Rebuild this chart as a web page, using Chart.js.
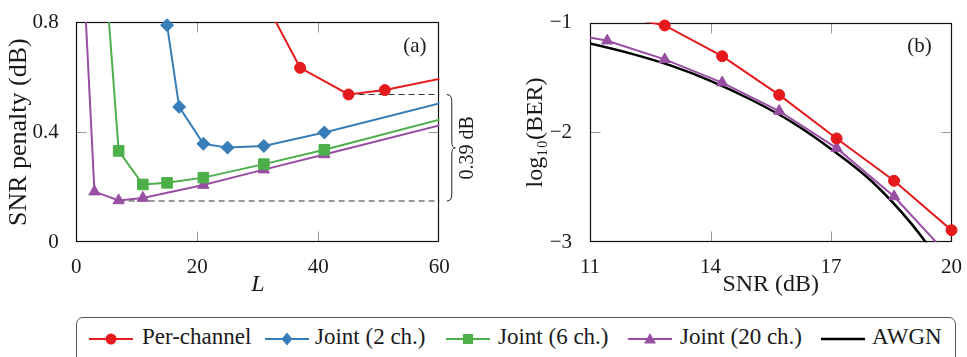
<!DOCTYPE html>
<html><head><meta charset="utf-8">
<script src="https://cdn.jsdelivr.net/npm/chart.js@4.4.1/dist/chart.umd.min.js"></script>
<style>
html,body{margin:0;padding:0;background:#fff;}
body{width:967px;height:357px;position:relative;overflow:hidden;font-family:"Liberation Serif", serif;}
#ca{position:absolute;left:0;top:0;}
#cb{position:absolute;left:480px;top:0;}
#legend{position:absolute;left:76px;top:317px;width:880px;height:52px;border:1px solid #555;border-radius:7px;box-sizing:border-box;}
.ic{position:absolute;top:13px;}
.tx{position:absolute;top:5px;font-family:"Liberation Serif", serif;font-size:23px;line-height:28px;color:#1a1a1a;white-space:nowrap;}
</style></head>
<body>
<canvas id="ca" width="480" height="300"></canvas>
<canvas id="cb" width="487" height="300"></canvas>
<div id="legend"></div>
<script>
// ---------- data: panel (a) SNR penalty vs L ----------
const lTicks = [0, 20, 40, 60];
const penaltyTicks = [0, 0.4, 0.8];
const perChannelL = [31, 37, 45, 51, 61];
const perChannelPenalty = [0.883, 0.634, 0.537, 0.553, 0.598];
const joint2L = [15, 17, 21, 25, 31, 41, 61];
const joint2Penalty = [0.789, 0.492, 0.358, 0.344, 0.350, 0.399, 0.510];
const joint6L = [5, 7, 11, 15, 21, 31, 41, 61];
const joint6Penalty = [0.92, 0.332, 0.210, 0.216, 0.235, 0.284, 0.336, 0.451];
const joint20L = [1, 3, 7, 11, 21, 31, 41, 61];
const joint20Penalty = [1.06, 0.184, 0.152, 0.161, 0.208, 0.264, 0.319, 0.430];
const gapLevels = [0.537, 0.150];   // best per-channel, best joint
const gapStartL = [45, 7];
const gapEndL = 60;
const gapLabel = '0.39 dB';

// ---------- data: panel (b) log10(BER) vs SNR ----------
const snrTicks = [11, 14, 17, 20];
const berTicks = [-3, -2, -1];
const perChannelSnr = [11.43, 12.86, 14.29, 15.71, 17.14, 18.57, 20];
const perChannelBer = [-0.914, -1.026, -1.306, -1.658, -2.055, -2.44, -2.89];
const joint20Snr = [10, 11.43, 12.86, 14.29, 15.71, 17.14, 18.57, 20];
const joint20Ber = [-1.07, -1.165, -1.335, -1.546, -1.805, -2.143, -2.583, -3.15];
const awgnSnr = [10, 11, 12, 13, 14, 15, 16, 17, 18, 19, 20];
const awgnBer = [-1.11, -1.19, -1.28, -1.39, -1.53, -1.70, -1.90, -2.15, -2.44, -2.83, -3.32];

// ---------- styles ----------
const RED = '#e41a1c', BLUE = '#377eb8', GREEN = '#4daf4a', PURPLE = '#984ea3', BLACK = '#000';
const FONT = '"Liberation Serif", serif';
const TXT = '#1a1a1a';

const pts = (xs, ys) => xs.map((x, i) => ({x, y: ys[i]}));

function inRange(ctx) {
  const c = ctx.chart, r = ctx.raw;
  if (!r) return false;
  const xs = c.scales.x, ys = c.scales.y;
  return r.x >= xs.min && r.x <= xs.max && r.y >= ys.min && r.y <= ys.max;
}
function lineDs(data, color, order, w) {
  return {data, borderColor: color, backgroundColor: color, borderWidth: w || 2,
    pointRadius: 0, clip: 0, order, tension: 0};
}
function markDs(data, color, style, r, order) {
  return {data, showLine: false, borderColor: color, backgroundColor: color, borderWidth: 1,
    pointStyle: style, pointRadius: ctx => inRange(ctx) ? r : 0, clip: false, order};
}

const framePlugin = {
  id: 'frame',
  beforeDatasetsDraw(chart) {
    const {ctx, chartArea: a} = chart;
    const L = Math.round(a.left) + 0.5, R = Math.round(a.right) - 0.5,
          T = Math.round(a.top) + 0.5, B = Math.round(a.bottom) - 0.5;
    ctx.save();
    ctx.strokeStyle = '#999'; ctx.lineWidth = 1;
    const tl = 10;
    chart.scales.x.ticks.forEach(t => {
      if (t.value <= chart.scales.x.min || t.value >= chart.scales.x.max) return;
      const p = Math.round(chart.scales.x.getPixelForValue(t.value)) + 0.5;
      ctx.beginPath(); ctx.moveTo(p, B); ctx.lineTo(p, B - tl); ctx.moveTo(p, T); ctx.lineTo(p, T + tl); ctx.stroke();
    });
    chart.scales.y.ticks.forEach(t => {
      if (t.value <= chart.scales.y.min || t.value >= chart.scales.y.max) return;
      const p = Math.round(chart.scales.y.getPixelForValue(t.value)) + 0.5;
      ctx.beginPath(); ctx.moveTo(L, p); ctx.lineTo(L + tl, p); ctx.moveTo(R, p); ctx.lineTo(R - tl, p); ctx.stroke();
    });
    ctx.strokeStyle = '#111'; ctx.lineWidth = 1.2;
    ctx.strokeRect(L, T, R - L, B - T);
    ctx.restore();
  },
  afterDraw(chart, args, opts) {
    const {ctx, chartArea: a} = chart;
    ctx.save();
    ctx.fillStyle = TXT;
    ctx.font = '21px ' + FONT;
    ctx.textAlign = 'center'; ctx.textBaseline = 'middle';
    ctx.fillText(opts.tag, a.right - opts.tagDx, a.top + 24);
    if (opts.brace) {
      const y = chart.scales.y;
      const yT = y.getPixelForValue(gapLevels[0]), yB = y.getPixelForValue(gapLevels[1]);
      const x0 = a.right + 7.5, xm = x0 + 5, xt = x0 + 8.5, mid = (yT + yB) / 2;
      ctx.strokeStyle = '#222'; ctx.lineWidth = 1;
      ctx.beginPath();
      ctx.moveTo(x0, yT);
      ctx.quadraticCurveTo(xm, yT, xm, yT + 7);
      ctx.lineTo(xm, mid - 6);
      ctx.quadraticCurveTo(xm, mid, xt, mid);
      ctx.quadraticCurveTo(xm, mid, xm, mid + 6);
      ctx.lineTo(xm, yB - 7);
      ctx.quadraticCurveTo(xm, yB, x0, yB);
      ctx.stroke();
      ctx.translate(a.right + 28, mid);
      ctx.rotate(-Math.PI / 2);
      ctx.font = '20px ' + FONT;
      ctx.fillText(gapLabel, 0, 0);
    }
    ctx.restore();
  }
};

function axis(min, max, ticks, fmt, title, titleFont, titlePad, tickPad, fit, isX) {
  return {
    type: 'linear', min, max,
    afterBuildTicks: s => { s.ticks = ticks.map(v => ({value: v})); },
    ticks: {callback: fmt, padding: tickPad, color: TXT, font: {family: FONT, size: 21},
      maxRotation: 0, autoSkip: false},
    grid: {display: false}, border: {display: false},
    title: {display: true, text: title, color: TXT, font: titleFont, padding: titlePad},
    afterFit: s => { if (isX) s.height = fit; else s.width = fit; }
  };
}

// ---------- chart (a) ----------
new Chart(document.getElementById('ca'), {
  type: 'line',
  data: {datasets: [
    markDs(pts(perChannelL, perChannelPenalty), RED, 'circle', 5.5, 1),
    markDs(pts(joint2L, joint2Penalty), BLUE, 'rectRot', 6.5, 2),
    markDs(pts(joint6L, joint6Penalty), GREEN, 'rect', 7.5, 3),
    markDs(pts(joint20L, joint20Penalty), PURPLE, 'triangle', 6.5, 4),
    lineDs(pts(perChannelL, perChannelPenalty), RED, 11),
    lineDs(pts(joint2L, joint2Penalty), BLUE, 12),
    lineDs(pts(joint6L, joint6Penalty), GREEN, 13),
    lineDs(pts(joint20L, joint20Penalty), PURPLE, 14),
    {data: [{x: gapStartL[0], y: gapLevels[0]}, {x: gapEndL, y: gapLevels[0]}], borderColor: '#333',
      borderWidth: 1, borderDash: [6, 4], pointRadius: 0, clip: false, order: 30},
    {data: [{x: gapStartL[1], y: gapLevels[1]}, {x: gapEndL, y: gapLevels[1]}], borderColor: '#333',
      borderWidth: 1, borderDash: [6, 4], pointRadius: 0, clip: false, order: 31}
  ]},
  options: {
    responsive: false, animation: false, events: [],
    layout: {padding: {left: 0, top: 15.3, right: 40.7, bottom: 0}},
    plugins: {legend: {display: false}, tooltip: {enabled: false},
      frame: {tag: '(a)', tagDx: 24.5, brace: true}},
    scales: {
      x: axis(0, 60, lTicks, v => String(v), 'L', {family: FONT, size: 24, style: 'italic'},
        {top: 0, bottom: 1}, 5, 57.7, true),
      y: axis(0, 0.8, penaltyTicks, v => v === 0 ? '0' : v.toFixed(1), 'SNR penalty (dB)',
        {family: FONT, size: 26}, {top: 4, bottom: 0}, 9.5, 76.3, false)
    }
  },
  plugins: [framePlugin]
});

// ---------- chart (b) ----------
new Chart(document.getElementById('cb'), {
  type: 'line',
  data: {datasets: [
    markDs(pts(perChannelSnr, perChannelBer), RED, 'circle', 5.5, 1),
    markDs(pts(joint20Snr, joint20Ber), PURPLE, 'triangle', 6.5, 2),
    lineDs(pts(perChannelSnr, perChannelBer), RED, 11),
    lineDs(pts(joint20Snr, joint20Ber), PURPLE, 12),
    Object.assign(lineDs(pts(awgnSnr, awgnBer), BLACK, 13, 2.5), {cubicInterpolationMode: 'monotone'})
  ]},
  options: {
    responsive: false, animation: false, events: [],
    layout: {padding: {left: 0, top: 15.3, right: 13.7, bottom: 0}},
    plugins: {legend: {display: false}, tooltip: {enabled: false},
      frame: {tag: '(b)', tagDx: 32, brace: false}},
    scales: {
      x: axis(11, 20, snrTicks, v => String(v), 'SNR (dB)', {family: FONT, size: 24},
        {top: 0, bottom: 1}, 5, 57.7, true),
      y: axis(-3, -1, berTicks, v => (v < 0 ? '\u2212' : '') + Math.abs(v), 'log\u2081\u2080(BER)',
        {family: FONT, size: 24}, {top: 41, bottom: 0}, 10, 110, false)
    }
  },
  plugins: [framePlugin]
});

// ---------- legend ----------
const legendItems = [
  {label: 'Per-channel', color: RED, mark: 'circle', icon: 12, text: 65},
  {label: 'Joint (2 ch.)', color: BLUE, mark: 'diamond', icon: 188, text: 238},
  {label: 'Joint (6 ch.)', color: GREEN, mark: 'square', icon: 369, text: 421},
  {label: 'Joint (20 ch.)', color: PURPLE, mark: 'triangle', icon: 551, text: 603},
  {label: 'AWGN', color: BLACK, mark: 'none', icon: 744, text: 795}
];
function markSvg(m, c) {
  if (m === 'circle') return `<circle cx="22" cy="8" r="5.5" fill="${c}"/>`;
  if (m === 'diamond') return `<polygon points="22,1.5 27.5,8 22,14.5 16.5,8" fill="${c}"/>`;
  if (m === 'square') return `<rect x="17" y="3" width="10" height="10" fill="${c}"/>`;
  if (m === 'triangle') return `<polygon points="22,2 28,12.5 16,12.5" fill="${c}"/>`;
  return '';
}
const lg = document.getElementById('legend');
legendItems.forEach(it => {
  const ic = document.createElement('div');
  ic.className = 'ic'; ic.style.left = it.icon + 'px';
  ic.innerHTML = `<svg width="44" height="16"><line x1="0" y1="8" x2="44" y2="8" stroke="${it.color}" stroke-width="${it.mark === 'none' ? 2.5 : 2}"/>${markSvg(it.mark, it.color)}</svg>`;
  lg.appendChild(ic);
  const tx = document.createElement('div');
  tx.className = 'tx'; tx.style.left = it.text + 'px'; tx.textContent = it.label;
  lg.appendChild(tx);
});
</script>
</body></html>
